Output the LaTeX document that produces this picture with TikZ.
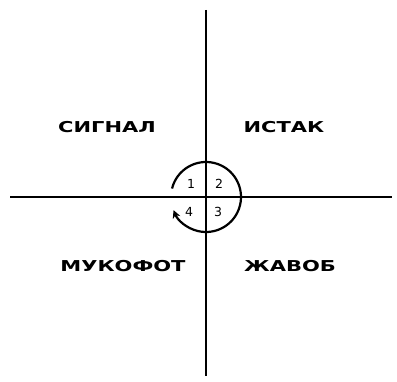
\documentclass[tikz,border=0pt]{standalone}
\usepackage{fontspec}
\usepackage{graphicx}
\setmainfont{DejaVu Sans}
\usetikzlibrary{arrows.meta}
\tikzset{
  axis/.style={line width=1.8pt, black},
  lbl/.style={font=\fontsize{15}{17}\selectfont\bfseries, inner sep=0pt},
  num/.style={font=\fontsize{12.5}{14}\selectfont, inner sep=0pt},
}
\begin{document}
\begin{tikzpicture}[x=1pt,y=-1pt]
\useasboundingbox (0,0) rectangle (397,382);
\coordinate (vt) at (206,10);
\coordinate (vb) at (206,376);
\coordinate (hl) at (10,197);
\coordinate (hr) at (392,197);
\coordinate (c) at (206,197);
\draw[axis] (vt) -- (vb);
\draw[axis] (hl) -- (hr);
\draw[line width=2.2pt, -{Stealth[length=8pt,width=8pt]}]
  ([shift={(-166:35)}]c) arc[start angle=-166, end angle=158, radius=35];
\node[lbl] (s) at (107,127) {\scalebox{1.4}[1]{СИГНАЛ}};
\node[lbl] (i) at (284,127) {\scalebox{1.4}[1]{ИСТАК}};
\node[lbl] (m) at (123,266) {\scalebox{1.4}[1]{МУКОФОТ}};
\node[lbl] (j) at (290,266) {\scalebox{1.4}[1]{ЖАВОБ}};
\node[num] (n1) at (191,184) {1};
\node[num] (n2) at (219,184) {2};
\node[num] (n4) at (189,212) {4};
\node[num] (n3) at (218,212) {3};
\end{tikzpicture}
\end{document}
